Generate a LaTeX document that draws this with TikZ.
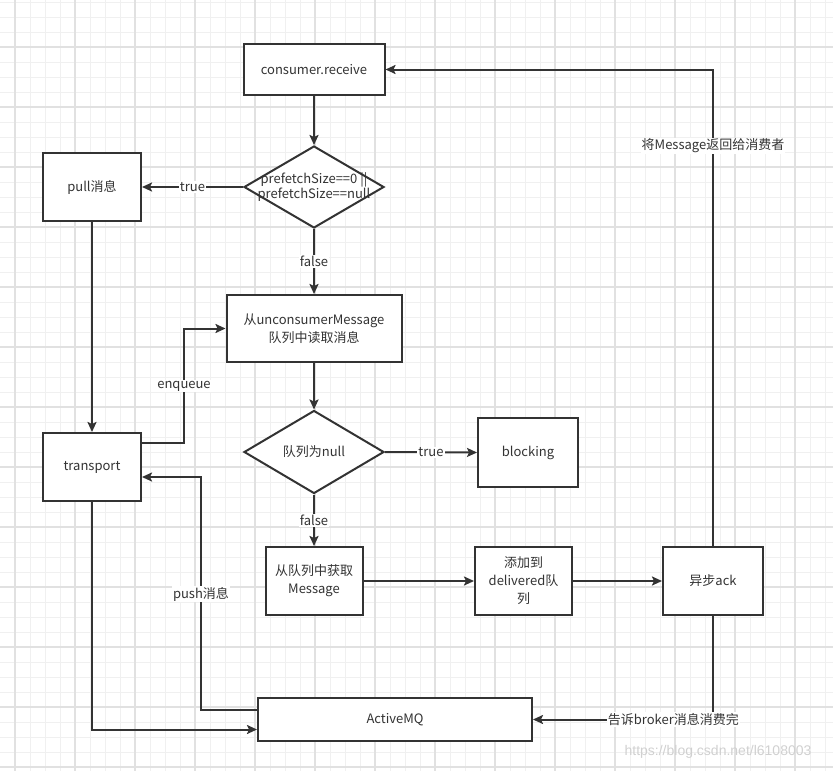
\documentclass[tikz,border=0pt]{standalone}
\usepackage{fontspec}
\setmainfont{Noto Sans CJK SC}
\newfontfamily\markfont{Liberation Sans}
\usetikzlibrary{shapes.geometric, arrows.meta, positioning}
\definecolor{ink}{RGB}{51,51,51}
\definecolor{gridminor}{RGB}{240,240,240}
\definecolor{gridmajor}{RGB}{225,225,225}
\definecolor{markgray}{RGB}{208,208,208}

\tikzset{
  stepbox/.style={draw=ink, line width=2pt, fill=white, align=center,
                  font=\fontsize{13}{18}\selectfont, text=ink, inner sep=2pt},
  choice/.style={diamond, draw=ink, line width=2pt, fill=white, inner sep=0pt},
  choicetxt/.style={align=center, font=\fontsize{13}{15}\selectfont, text=ink},
  flow/.style={draw=ink, line width=2pt, -{Stealth[length=10pt,width=9pt,inset=2pt]}},
  lbl/.style={fill=white, inner sep=1pt, font=\fontsize{13}{15}\selectfont, text=ink}
}

\begin{document}
\begin{tikzpicture}[x=1pt, y=-1pt]
    \useasboundingbox (0,0) rectangle (833,771);
    % background grid
    \foreach \x in {15,30,...,825}
      \draw[gridminor, line width=1pt] (\x,0) -- (\x,771);
    \foreach \y in {2,17,...,767}
      \draw[gridminor, line width=1pt] (0,\y) -- (833,\y);
    \foreach \x in {15,75,...,795}
      \draw[gridmajor, line width=1.2pt] (\x,0) -- (\x,771);
    \foreach \y in {47,107,...,767}
      \draw[gridmajor, line width=1.2pt] (0,\y) -- (833,\y);

    % nodes
    \node[stepbox, minimum width=141pt, minimum height=51pt] (recv) at (314,69.5)
      {consumer.receive};
    \node[choice, minimum width=140pt, minimum height=82pt,
          label={[choicetxt]center:prefetchSize==0 ||\\prefetchSize==null}] (chk) at (314,187) {};
    \node[stepbox, minimum width=98pt, minimum height=68pt] (pull) at (92,187)
      {pull消息};
    \node[stepbox, minimum width=175pt, minimum height=67pt] (readq) at (314,328.5)
      {从unconsumerMessage\\队列中读取消息};
    \node[stepbox, minimum width=98pt, minimum height=68pt] (transport) at (92,467)
      {transport};
    \node[choice, minimum width=140pt, minimum height=83pt,
          label={[choicetxt]center:队列为null}] (empty) at (314,452) {};
    \node[stepbox, minimum width=100pt, minimum height=69pt] (block) at (528,452.5)
      {blocking};
    \node[stepbox, minimum width=97pt, minimum height=68pt] (getmsg) at (314,581)
      {从队列中获取\\Message};
    \node[stepbox, minimum width=97pt, minimum height=68pt] (dlvd) at (523.5,581)
      {添加到\\delivered队\\列};
    \node[stepbox, minimum width=100pt, minimum height=68pt] (ack) at (713,581)
      {异步ack};
    \node[stepbox, minimum width=274pt, minimum height=43pt] (amq) at (395,719.5)
      {ActiveMQ};
    \node[font=\markfont\fontsize{14}{14}\selectfont, text=markgray] (mark) at (718,752)
      {https://blog.csdn.net/l6108003};

    \coordinate (enqturn) at (184,386);
    \coordinate (pushturn) at (201,594);

    % connectors
    \draw[flow] (recv.south) -- (chk.north);
    \draw[flow] (chk.west) -- node[lbl] {true} (pull.east);
    \draw[flow] (chk.south) -- node[lbl] {false} (readq.north);
    \draw[flow] (pull.south) -- (transport.north);
    \draw[flow] ([yshift=24pt]transport.east) -| (enqturn) node[lbl] {enqueue} |- (readq.west);
    \draw[flow] (readq.south) -- (empty.north);
    \draw[flow] (empty.east) -- node[lbl] {true} (block.west);
    \draw[flow] (empty.south) -- node[lbl] {false} (getmsg.north);
    \draw[flow] (getmsg.east) -- (dlvd.west);
    \draw[flow] (dlvd.east) -- (ack.west);
    \draw[flow] (ack.north) |- node[lbl, pos=0.42] {将Message返回给消费者} (recv.east);
    \draw[flow] (ack.south) |- node[lbl, pos=0.61] {告诉broker消息消费完} (amq.east);
    \draw[flow] (transport.south) |- ([yshift=-10pt]amq.west);
    \draw[flow] ([yshift=10pt]amq.west) -| (pushturn) node[lbl] {push消息} |- ([yshift=-10pt]transport.east);
\end{tikzpicture}
\end{document}
